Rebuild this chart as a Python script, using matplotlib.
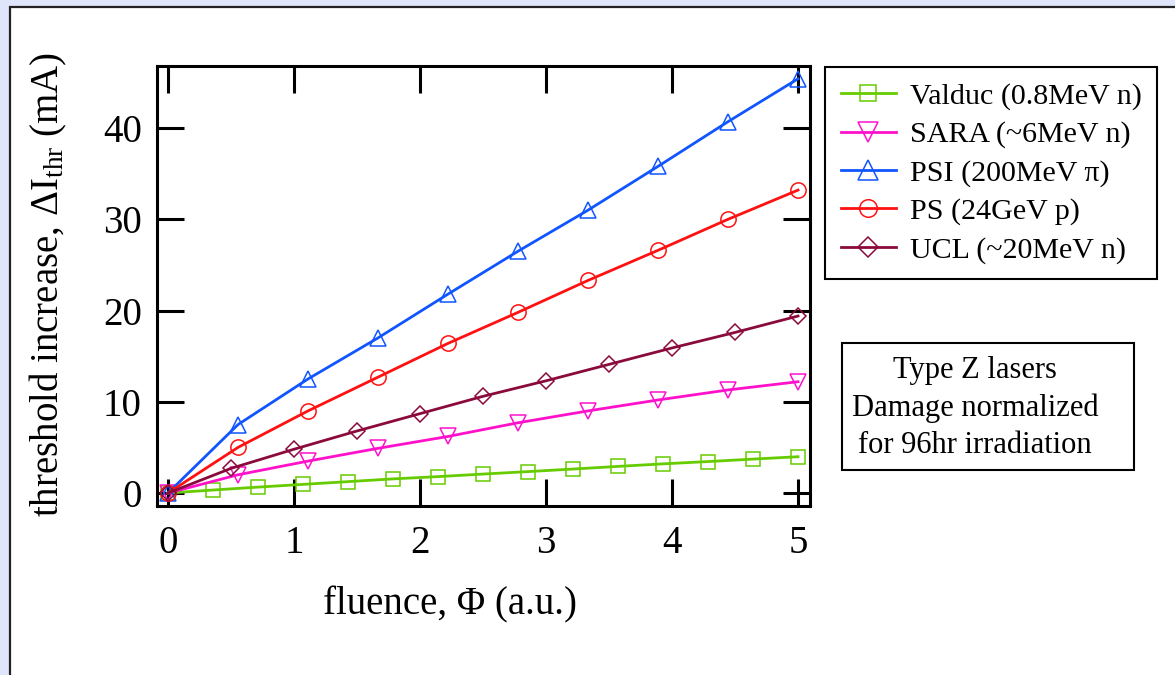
import numpy as np
import matplotlib
matplotlib.use("Agg")
import matplotlib.pyplot as plt
from matplotlib.patches import Rectangle

plt.rcParams['font.family'] = ['Liberation Serif', 'DejaVu Serif']
plt.rcParams['mathtext.fontset'] = 'custom'
plt.rcParams['mathtext.rm'] = 'Liberation Serif'
plt.rcParams['mathtext.it'] = 'Liberation Serif:italic'

# fluence grids of the different irradiation runs
x_valduc = np.linspace(0, 5, 15)
x_nine = np.linspace(0, 5, 10)
x_ucl = np.linspace(0, 5, 11)

valduc = [0, 0.33, 0.65, 0.95, 1.25, 1.55, 1.8, 2.08, 2.35, 2.63, 2.92, 3.2, 3.45, 3.72, 3.98]
sara = [0, 2.0, 3.5, 4.9, 6.2, 7.7, 9.0, 10.2, 11.3, 12.2]
psi = [0, 7.5, 12.5, 17.0, 21.8, 26.5, 31.0, 35.8, 40.7, 45.4]
ps = [0, 5.0, 9.0, 12.7, 16.4, 19.8, 23.3, 26.6, 30.0, 33.2]
ucl = [0, 2.7, 4.8, 6.8, 8.7, 10.6, 12.3, 14.1, 15.9, 17.6, 19.4]

W, H = 1175, 675
fig = plt.figure(figsize=(W / 100, H / 100), dpi=100)
fig.patch.set_facecolor('#dfe6fb')

# white panel with a dark border on the left and top
panel = Rectangle((10 / W, -0.1), 1.2, 1.1 - 7 / H, transform=fig.transFigure,
                  facecolor='white', edgecolor='#222222', linewidth=1.6, zorder=-5)
fig.patches.append(panel)

ax = fig.add_axes([157 / W, 1 - 506 / H, 653 / W, 440 / H])
ax.set_facecolor('white')

lw = 2.0
mk = dict(markerfacecolor='none', markeredgewidth=1.1)
ax.plot(x_valduc, valduc, '-s', color='#66cc00', lw=lw, ms=10, label='Valduc (0.8MeV n)', **mk)
ax.plot(x_nine, sara, '-v', color='#ff11cc', lw=lw, ms=12, label='SARA (~6MeV n)', **mk)
ax.plot(x_nine, psi, '-^', color='#1155ff', lw=lw, ms=12, label='PSI (200MeV π)', **mk)
ax.plot(x_nine, ps, '-o', color='#ff1111', lw=lw, ms=11, label='PS (24GeV p)', **mk)
ax.plot(x_ucl, ucl, '-D', color='#8b0a3c', lw=lw, ms=8.5, label='UCL (~20MeV n)', **mk)

ax.set_xlim(-0.087, 5.095)
ax.set_ylim(-1.42, 46.8)
ax.set_xticks([0, 1, 2, 3, 4, 5])
ax.set_yticks([0, 10, 20, 30, 40])
ax.tick_params(direction='in', length=19.5, width=2.2, labelsize=28,
               top=True, right=True)
ax.tick_params(axis='x', pad=14)
ax.tick_params(axis='y', pad=11)
for s in ax.spines.values():
    s.set_linewidth(2.2)

fig.text(450 / W, 1 - 605 / H, 'fluence, Φ (a.u.)', fontsize=28,
         ha='center', va='center')
fig.text(48 / W, 1 - 285 / H, r'threshold increase, ΔI$_{\mathrm{thr}}$ (mA)',
         fontsize=28, rotation=90, ha='center', va='center')

leg = ax.legend(loc='upper left', bbox_to_anchor=(825 / W, 1 - 67 / H),
                bbox_transform=fig.transFigure, borderaxespad=0, fontsize=21.6,
                frameon=True, fancybox=False, framealpha=1, edgecolor='black',
                handlelength=1.85, handletextpad=0.45, labelspacing=0.37,
                borderpad=0.52, markerscale=1.15)
leg.get_frame().set_linewidth(1.5)

# note box
note = Rectangle((842 / W, 1 - 470 / H), 292 / W, 127 / H, transform=fig.transFigure,
                 facecolor='white', edgecolor='black', linewidth=1.5, zorder=1)
fig.patches.append(note)
fig.text(975 / W, 1 - 408 / H, 'Type Z lasers\nDamage normalized\nfor 96hr irradiation',
         fontsize=22, ha='center', va='center', multialignment='center',
         linespacing=1.38, zorder=2)

fig.savefig('out.png', dpi=100, facecolor=fig.get_facecolor())
